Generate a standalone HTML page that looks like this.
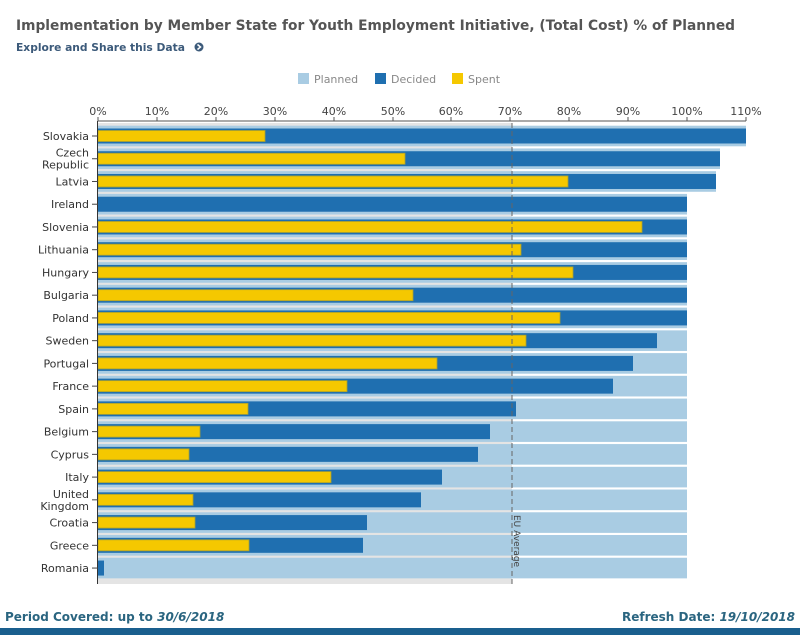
<!DOCTYPE html>
<html><head><meta charset="utf-8"><style>
html,body{margin:0;padding:0;background:#fff;width:800px;height:635px;overflow:hidden}
svg{display:block;font-family:"DejaVu Sans","Liberation Sans",sans-serif}
</style></head><body>
<svg width="800" height="635" viewBox="0 0 800 635">
<text x="16" y="30" font-size="13.8" font-weight="bold" fill="#555" textLength="719" lengthAdjust="spacingAndGlyphs">Implementation by Member State for Youth Employment Initiative, (Total Cost) % of Planned</text>
<text x="16" y="51" font-size="10.7" font-weight="bold" fill="#3c5a7a">Explore and Share this Data</text>
<circle cx="199" cy="47" r="4.5" fill="#3c5a7a"/><path d="M197.5 44.5 L200.5 47 L197.5 49.5" stroke="#fff" stroke-width="1.5" fill="none"/>
<rect x="298" y="73" width="11" height="11" fill="#a9cce3"/><text x="314" y="83" font-size="11" fill="#888">Planned</text>
<rect x="375" y="73" width="11" height="11" fill="#1f6fb0"/><text x="391" y="83" font-size="11" fill="#888">Decided</text>
<rect x="452" y="73" width="11" height="11" fill="#f5c800"/><text x="468" y="83" font-size="11" fill="#888">Spent</text>
<g font-size="11" fill="#444" text-anchor="middle">
<text x="98" y="115">0%</text><text x="157" y="115">10%</text><text x="216" y="115">20%</text><text x="275" y="115">30%</text><text x="334" y="115">40%</text><text x="393" y="115">50%</text><text x="451" y="115">60%</text><text x="510" y="115">70%</text><text x="569" y="115">80%</text><text x="628" y="115">90%</text><text x="687" y="115">100%</text><text x="746" y="115">110%</text>
</g>
<line x1="98" y1="121" x2="746" y2="121" stroke="#555"/>
<g stroke="#555"><line x1="98" y1="117" x2="98" y2="121"/><line x1="157" y1="117" x2="157" y2="121"/><line x1="216" y1="117" x2="216" y2="121"/><line x1="275" y1="117" x2="275" y2="121"/><line x1="334" y1="117" x2="334" y2="121"/><line x1="393" y1="117" x2="393" y2="121"/><line x1="451" y1="117" x2="451" y2="121"/><line x1="510" y1="117" x2="510" y2="121"/><line x1="569" y1="117" x2="569" y2="121"/><line x1="628" y1="117" x2="628" y2="121"/><line x1="687" y1="117" x2="687" y2="121"/><line x1="746" y1="117" x2="746" y2="121"/></g>
<rect x="98" y="123" width="414" height="461" fill="#e4e4e4"/>
<g id="rows"></g>
<line x1="512" y1="123" x2="512" y2="584" stroke="#666" stroke-dasharray="5,3"/>
<text transform="translate(514,515) rotate(90)" font-size="9" fill="#444">EU Average</text>
<line x1="97.5" y1="121" x2="97.5" y2="584" stroke="#333"/>
<g id="labels" font-size="11" fill="#333" text-anchor="end"></g>
<text x="5" y="621" font-size="12" font-weight="bold" fill="#2a6580">Period Covered: up to <tspan font-style="italic">30/6/2018</tspan></text>
<text x="795" y="621" font-size="12" font-weight="bold" fill="#2a6580" text-anchor="end">Refresh Date: <tspan font-style="italic">19/10/2018</tspan></text>
<rect x="0" y="628" width="800" height="7" fill="#1a5f8e"/>
</svg>
<script>
var d=[["Slovakia",265,746],["Czech|Republic",405,720],["Latvia",568,716],["Ireland",98,687],["Slovenia",642,687],["Lithuania",521,687],["Hungary",573,687],["Bulgaria",413,687],["Poland",560,687],["Sweden",526,657],["Portugal",437,633],["France",347,613],["Spain",248,516],["Belgium",200,490],["Cyprus",189,478],["Italy",331,442],["United|Kingdom",193,421],["Croatia",195,367],["Greece",249,363],["Romania",98,104]];
var ns="http://www.w3.org/2000/svg",g=document.getElementById("rows"),L=document.getElementById("labels");
function r(p,x,y,w,h,f,s){var e=document.createElementNS(ns,"rect");e.setAttribute("x",x);e.setAttribute("y",y);e.setAttribute("width",w);e.setAttribute("height",h);e.setAttribute("fill",f);if(s){e.setAttribute("stroke",s);e.setAttribute("stroke-width","0.8");}p.appendChild(e);}
function t(x,y,s){var e=document.createElementNS(ns,"text");e.setAttribute("x",x);e.setAttribute("y",y);e.textContent=s;L.appendChild(e);}
d.forEach(function(a,i){var c=136+22.74*i;var pe=Math.max(687,a[2]);
r(g,98,c-10.3,pe-98,20.6,"#a9cce3");
r(g,98,c-7.5,a[2]-98,15,"#1f6fb0");
if(a[1]>98)r(g,98,c-5.5,a[1]-98,11,"#f5c800","#a8a030");
var l=document.createElementNS(ns,"line");l.setAttribute("x1",92);l.setAttribute("x2",98);l.setAttribute("y1",c);l.setAttribute("y2",c);l.setAttribute("stroke","#444");L.appendChild(l);
var p=a[0].split("|");if(p.length==1)t(89,c+4,p[0]);else{t(89,c-2,p[0]);t(89,c+10,p[1]);}
});
</script>
</body></html>
